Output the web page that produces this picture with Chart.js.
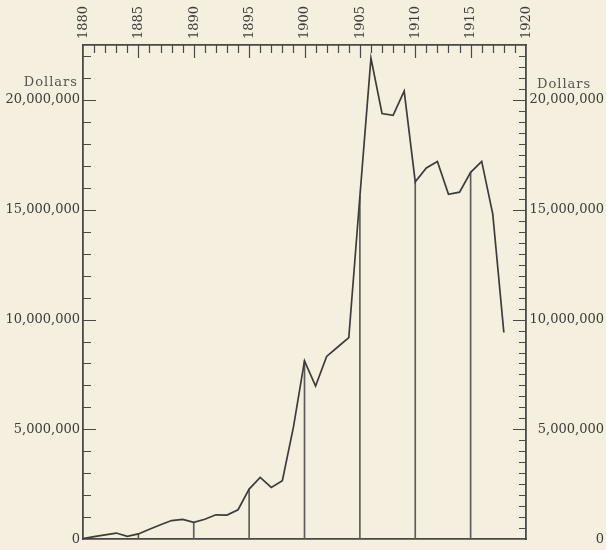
<!DOCTYPE html>
<html>
<head>
<meta charset="utf-8">
<script src="https://cdn.jsdelivr.net/npm/chart.js@4.4.1/dist/chart.umd.min.js"></script>
<style>
  html, body { margin: 0; padding: 0; background: #f4efdf; }
  canvas { display: block; }
</style>
</head>
<body>
<canvas id="valueChart" width="606" height="550"></canvas>
<script>
// yearly values, 1880-1918
const years = [
    1880, 1881, 1882, 1883, 1884, 1885, 1886, 1887, 1888, 1889,
    1890, 1891, 1892, 1893, 1894, 1895, 1896, 1897, 1898, 1899,
    1900, 1901, 1902, 1903, 1904, 1905, 1906, 1907, 1908, 1909,
    1910, 1911, 1912, 1913, 1914, 1915, 1916, 1917, 1918
];
const dollars = [
    30000, 120000, 200000, 280000, 130000, 240000, 450000, 660000, 850000, 900000,
    770000, 910000, 1110000, 1100000, 1340000, 2280000, 2810000, 2360000, 2660000, 5100000,
    8120000, 6970000, 8320000, 8750000, 9180000, 15600000, 21900000, 19380000, 19300000, 20400000,
    16270000, 16900000, 17200000, 15700000, 15800000, 16700000, 17200000, 14800000, 9410000
];
// years that get a drop line down to zero
const markedYears = [1885, 1890, 1895, 1900, 1905, 1910, 1915];
const yearTicks = [1880, 1885, 1890, 1895, 1900, 1905, 1910, 1915, 1920];
const dollarTicks = [0, 5000000, 10000000, 15000000, 20000000];
const unitLabel = 'Dollars';

const ink = '#3d3c37';
const frame = '#4a4944';

const points = years.map((yr, i) => ({ x: yr, y: dollars[i] }));
const drops = markedYears.map(yr => ({ x: yr, y: dollars[years.indexOf(yr)] }));

const paper = {
    id: 'paper',
    beforeDraw(chart) {
        const ctx = chart.ctx;
        ctx.save();
        ctx.fillStyle = '#f4efdf';
        ctx.fillRect(0, 0, chart.width, chart.height);
        ctx.restore();
    }
};

// small tick marks on the inside of the frame, plus the unit captions
const innerTicks = {
    id: 'innerTicks',
    afterDatasetsDraw(chart) {
        const { ctx, chartArea: area, scales } = chart;
        ctx.save();
        ctx.strokeStyle = frame;
        ctx.lineWidth = 1.2;
        ctx.beginPath();
        for (let yr = 1881; yr < 1920; yr++) {
            const x = Math.round(scales.x.getPixelForValue(yr)) + 0.5;
            const len = yr % 5 === 0 ? 13 : 8;
            ctx.moveTo(x, area.top);
            ctx.lineTo(x, area.top + len);
        }
        for (let v = 1000000; v < 22500000; v += 1000000) {
            const y = Math.round(scales.y.getPixelForValue(v)) + 0.5;
            const len = v % 5000000 === 0 ? 13 : 8;
            ctx.moveTo(area.left, y);
            ctx.lineTo(area.left + len, y);
        }
        for (let v = 500000; v < 22500000; v += 500000) {
            const y = Math.round(scales.y2.getPixelForValue(v)) + 0.5;
            const len = v % 5000000 === 0 ? 13 : 7;
            ctx.moveTo(area.right, y);
            ctx.lineTo(area.right - len, y);
        }
        ctx.stroke();

        ctx.fillStyle = '#55544e';
        ctx.font = '13px "DejaVu Serif"';
        ctx.letterSpacing = '1px';
        ctx.textBaseline = 'middle';
        const top = scales.y.getPixelForValue(20000000);
        ctx.textAlign = 'right';
        ctx.fillText(unitLabel, area.left - 5, top - 17);
        ctx.textAlign = 'left';
        ctx.fillText(unitLabel, area.right + 11, top - 15);
        ctx.restore();
    }
};

const ctx = document.getElementById('valueChart').getContext('2d');
Chart.defaults.font.family = '"DejaVu Serif", serif';
Chart.defaults.font.size = 13;
Chart.defaults.color = ink;

const valueChart = new Chart(ctx, {
    type: 'line',
    data: {
        datasets: [{
            label: unitLabel,
            data: points,
            borderColor: ink,
            borderWidth: 1.7,
            pointRadius: 0,
            tension: 0,
            order: 1
        }, {
            type: 'bar',
            label: 'marks',
            data: drops,
            backgroundColor: '#5d5c56',
            barThickness: 1,
            order: 2
        }]
    },
    options: {
        responsive: false,
        animation: false,
        devicePixelRatio: 1,
        layout: { padding: { left: 0, right: 2, top: 0, bottom: 7 } },
        plugins: {
            legend: { display: false },
            tooltip: { enabled: false }
        },
        scales: {
            x: {
                type: 'linear',
                position: 'top',
                offset: false,
                min: 1880,
                max: 1920,
                afterBuildTicks: scale => { scale.ticks = yearTicks.map(v => ({ value: v })); },
                afterFit: scale => { scale.height = 45; },
                ticks: {
                    autoSkip: false,
                    minRotation: 90,
                    maxRotation: 90,
                    padding: 6,
                    labelOffset: 16,
                    callback: v => String(v)
                },
                grid: { display: false, drawTicks: false, offset: false },
                border: { display: true, color: frame, width: 1.8 }
            },
            xb: {
                type: 'linear',
                position: 'bottom',
                offset: false,
                min: 1880,
                max: 1920,
                afterFit: scale => { scale.height = 0; },
                ticks: { display: false },
                grid: { display: false, drawTicks: false },
                border: { display: true, color: frame, width: 1.8 }
            },
            y: {
                position: 'left',
                min: 0,
                max: 22500000,
                afterBuildTicks: scale => { scale.ticks = dollarTicks.map(v => ({ value: v })); },
                afterFit: scale => { scale.width = 83; },
                ticks: {
                    padding: 3,
                    callback: v => v.toLocaleString('en-US')
                },
                grid: { display: false, drawTicks: false },
                border: { display: true, color: frame, width: 1.8 }
            },
            y2: {
                position: 'right',
                min: 0,
                max: 22500000,
                afterBuildTicks: scale => { scale.ticks = dollarTicks.map(v => ({ value: v })); },
                afterFit: scale => { scale.width = 78; },
                ticks: {
                    crossAlign: 'far',
                    callback: v => v.toLocaleString('en-US')
                },
                grid: { display: false, drawTicks: false },
                border: { display: true, color: frame, width: 1.8 }
            }
        }
    },
    plugins: [paper, innerTicks]
});
</script>
</body>
</html>
